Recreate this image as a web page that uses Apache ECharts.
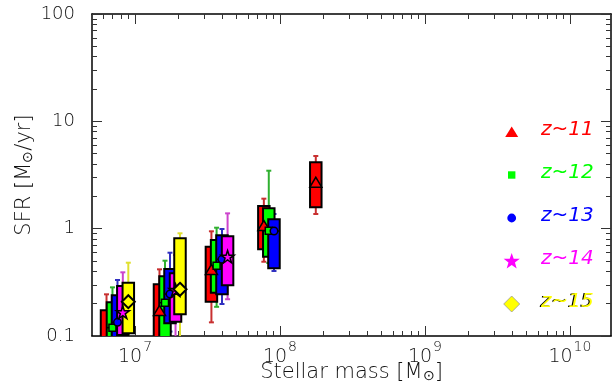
<!DOCTYPE html>
<html><head><meta charset="utf-8">
<script src="https://cdn.jsdelivr.net/npm/echarts@6/dist/echarts.min.js"></script>
<style>html,body{margin:0;padding:0;background:#fff}#c{width:612px;height:387px}</style>
</head><body><div id="c"></div>
<script>
// ---- axis ranges & ticks ----
const xMin = 5.05e6, xMax = 1.92e10;
const yMin = 0.1, yMax = 100;
const xMajorTicks = [1e7, 1e8, 1e9, 1e10];
const xMinorTicks = [6e6, 7e6, 8e6, 9e6, 2e7, 3e7, 4e7, 5e7, 6e7, 7e7, 8e7, 9e7,
  2e8, 3e8, 4e8, 5e8, 6e8, 7e8, 8e8, 9e8, 2e9, 3e9, 4e9, 5e9, 6e9, 7e9, 8e9, 9e9];
const yMajorTicks = [0.1, 1, 10, 100];
const yMinorTicks = [0.2, 0.3, 0.4, 0.5, 0.6, 0.7, 0.8, 0.9, 2, 3, 4, 5, 6, 7, 8, 9,
  20, 30, 40, 50, 60, 70, 80, 90];

// ---- data: stellar mass bins and SFR box statistics ----
const seriesNames = ['z~11', 'z~12', 'z~13', 'z~14', 'z~15'];

const z11Mass = [6.36e6, 1.475e7, 3.365e7, 7.74e7, 1.766e8];
const z11Low  = [0.07, 0.08, 0.134, 0.492, 1.37];
const z11Q1   = [0.08, 0.09, 0.209, 0.642, 1.581];
const z11Med  = [0.09, 0.157, 0.378, 0.972, 2.46];
const z11Q3   = [0.1735, 0.303, 0.679, 1.626, 4.153];
const z11High = [0.2445, 0.418, 0.945, 1.903, 4.753];

const z12Mass = [6.99e6, 1.61e7, 3.654e7, 8.37e7];
const z12Low  = [0.07, 0.08, 0.187, 0.479];
const z12Q1   = [0.085, 0.09, 0.253, 0.548];
const z12Med  = [0.1195, 0.2043, 0.4517, 0.957];
const z12Q3   = [0.206, 0.36, 0.784, 1.547];
const z12High = [0.284, 0.503, 1.021, 3.467];

const z13Mass = [7.57e6, 1.743e7, 3.98e7, 9.09e7];
const z13Low  = [0.075, 0.11, 0.1986, 0.403];
const z13Q1   = [0.09, 0.1312, 0.2445, 0.427];
const z13Med  = [0.134, 0.246, 0.518, 0.951];
const z13Q3   = [0.2394, 0.4208, 0.867, 1.222];
const z13High = [0.3324, 0.597, 0.9927, 1.37];

const z14Mass = [8.24e6, 1.903e7, 4.35e7];
const z14Low  = [0.08, 0.08, 0.22];
const z14Q1   = [0.1021, 0.1358, 0.2967];
const z14Med  = [0.1662, 0.2683, 0.548];
const z14Q3   = [0.2922, 0.3838, 0.849];
const z14High = [0.392, 0.568, 1.389];

const z15Mass = [8.99e6, 2.043e7];
const z15Low  = [0.085, 0.08];
const z15Q1   = [0.1059, 0.1592];
const z15Med  = [0.2087, 0.2723];
const z15Q3   = [0.3137, 0.813];
const z15High = [0.4818, 0.9054];

// ---- styles ----
const boxColors = ['#ff0000', '#00ff00', '#0000ff', '#ff00ff', '#ffff00'];
const whiskerColors = ['#c83030', '#30b030', '#3030c0', '#cc44cc', '#e0e030'];
const markerSymbols = ['triangle', 'rect', 'circle',
  'path://M50,0 L61.2,34.5 L97.6,34.5 L68.2,55.9 L79.4,90.5 L50,69.1 L20.6,90.5 L31.8,55.9 L2.4,34.5 L38.8,34.5 Z',
  'diamond'];
const markerSizes = [[12, 10], 7, 7.5, 13, 13];
const markerOffsets = [[0, -4.5], [0, 0], [0, 0], [0, 0], [0, 0]];

const groups = [
  [z11Mass, z11Low, z11Q1, z11Med, z11Q3, z11High],
  [z12Mass, z12Low, z12Q1, z12Med, z12Q3, z12High],
  [z13Mass, z13Low, z13Q1, z13Med, z13Q3, z13High],
  [z14Mass, z14Low, z14Q1, z14Med, z14Q3, z14High],
  [z15Mass, z15Low, z15Q1, z15Med, z15Q3, z15High]
];
const rows = groups.map(g => g[0].map((m, i) => [m, g[1][i], g[2][i], g[3][i], g[4][i], g[5][i]]));

const FONT = 'DejaVu Sans';
const TXT = '#111';
const BOX_W = 11.5;

function whiskerItem(params, api) {
  const x = api.value(0);
  const lo = api.coord([x, api.value(1)]);
  const hi = api.coord([x, api.value(5)]);
  const c = api.visual('color');
  const st = { stroke: c, lineWidth: 2 };
  return { type: 'group', children: [
    { type: 'line', shape: { x1: lo[0], y1: lo[1], x2: hi[0], y2: hi[1] }, style: st },
    { type: 'line', shape: { x1: hi[0] - 2.5, y1: hi[1], x2: hi[0] + 2.5, y2: hi[1] }, style: st },
    { type: 'line', shape: { x1: lo[0] - 2.5, y1: lo[1], x2: lo[0] + 2.5, y2: lo[1] }, style: st }
  ]};
}
function boxItem(params, api) {
  const x = api.value(0);
  const top = api.coord([x, api.value(4)]);
  const bot = api.coord([x, api.value(2)]);
  const med = api.coord([x, api.value(3)]);
  const c = api.visual('color');
  return { type: 'group', children: [
    { type: 'rect', shape: { x: top[0] - BOX_W / 2, y: top[1], width: BOX_W, height: bot[1] - top[1] },
      style: { fill: c, stroke: '#000', lineWidth: 2 } },
    { type: 'line', shape: { x1: top[0] - BOX_W / 2, y1: med[1], x2: top[0] + BOX_W / 2, y2: med[1] },
      style: { stroke: '#000', lineWidth: 1.5 } }
  ]};
}

const series = [];
rows.forEach((r, k) => series.push({
  type: 'custom', name: seriesNames[k] + ' whisker', renderItem: whiskerItem, clip: true,
  itemStyle: { color: whiskerColors[k] }, encode: { x: 0, y: [1, 2, 3, 4, 5] }, data: r, silent: true
}));
rows.forEach((r, k) => series.push({
  type: 'custom', name: seriesNames[k], renderItem: boxItem, clip: true,
  itemStyle: { color: boxColors[k] }, encode: { x: 0, y: [1, 2, 3, 4, 5] }, data: r, silent: true
}));
rows.forEach((r, k) => series.push({
  type: 'scatter', name: seriesNames[k] + ' median', clip: true, silent: true,
  symbol: markerSymbols[k], symbolSize: markerSizes[k], symbolOffset: markerOffsets[k], symbolKeepAspect: true,
  itemStyle: { color: boxColors[k], borderColor: '#000', borderWidth: k === 4 ? 2 : 1.5, opacity: 1 },
  data: r.map(d => [d[0], d[3]])
}));

const tickStyle = { color: '#333', width: 1 };
const lineStyle = { color: '#000', width: 1.5 };
const nameRich = {
  a: { fontFamily: FONT, fontSize: 21, fontWeight: 200, color: TXT, lineHeight: 24, padding: [0, 0, 6, 0] },
  sub: { fontFamily: FONT, fontSize: 14, fontWeight: 200, color: TXT, lineHeight: 14 }
};
function axisPair(dim, pos, isLabelled) {
  const isX = dim === 'x';
  const base = { type: 'log', logBase: 10, min: isX ? xMin : yMin, max: isX ? xMax : yMax, position: pos,
    splitLine: { show: false }, minorTick: { show: false } };
  const minor = Object.assign({}, base, {
    axisLine: { show: true, onZero: false, lineStyle },
    axisTick: { show: true, inside: true, length: 5, lineStyle: tickStyle, customValues: isX ? xMinorTicks : yMinorTicks },
    axisLabel: { show: false }
  });
  const major = Object.assign({}, base, {
    axisLine: { show: false, onZero: false },
    axisTick: { show: true, inside: true, length: 10, lineStyle: tickStyle, customValues: isX ? xMajorTicks : yMajorTicks },
    axisLabel: { show: false }
  });
  if (isLabelled && isX) {
    major.axisLabel = {
      show: true, customValues: xMajorTicks, margin: 4,
      formatter: v => '{b|10}{s|' + Math.round(Math.log10(v)) + '}',
      rich: {
        b: { fontFamily: FONT, fontSize: 19, fontWeight: 200, color: TXT, padding: [8, 0, 0, 0] },
        s: { fontFamily: FONT, fontSize: 14, fontWeight: 200, color: TXT, padding: [0, 0, 12, 1] }
      }
    };
    major.name = '{a|Stellar mass [M}{sub|⊙}{a|]}';
    major.nameLocation = 'middle';
    major.nameGap = 28;
    major.nameMoveOverlap = false;
    major.nameTextStyle = { rich: nameRich };
  }
  if (isLabelled && !isX) {
    major.axisLabel = {
      show: true, customValues: yMajorTicks, margin: 17,
      formatter: v => (v < 1 ? v.toFixed(1) : String(Math.round(v))),
      fontFamily: FONT, fontSize: 18, fontWeight: 200, color: TXT
    };
    major.name = '{a|SFR [M}{sub|⊙}{a|/yr]}';
    major.nameLocation = 'middle';
    major.nameGap = 52;
    major.nameMoveOverlap = false;
    major.nameTextStyle = { rich: nameRich };
  }
  return [minor, major];
}

const xAxes = [...axisPair('x', 'bottom', true), ...axisPair('x', 'top', false)];
const yAxes = [...axisPair('y', 'left', true), ...axisPair('y', 'right', false)];

// ---- legend (drawn as graphic) ----
const legendX = 511.7, legendTextX = 541, legendY0 = 130, legendStep = 43;
function starPoints(cx, cy, R, r) {
  const pts = [];
  for (let i = 0; i < 10; i++) {
    const a = -Math.PI / 2 + i * Math.PI / 5;
    const rad = i % 2 === 0 ? R : r;
    pts.push([cx + rad * Math.cos(a), cy + rad * Math.sin(a)]);
  }
  return pts;
}
const graphics = [];
seriesNames.forEach((nm, k) => {
  const cy = legendY0 + k * legendStep + 2;
  let el;
  if (k === 0) el = { type: 'polygon', shape: { points: [[legendX - 6.5, cy + 5], [legendX + 6.5, cy + 5], [legendX, cy - 5.5]] }, style: { fill: boxColors[0] } };
  if (k === 1) el = { type: 'rect', shape: { x: legendX - 3.7, y: cy - 3.7, width: 7.4, height: 7.4 }, style: { fill: boxColors[1] } };
  if (k === 2) el = { type: 'circle', shape: { cx: legendX, cy: cy, r: 4.4 }, style: { fill: boxColors[2] } };
  if (k === 3) el = { type: 'polygon', shape: { points: starPoints(legendX, cy + 0.5, 8.5, 3.4) }, style: { fill: boxColors[3] } };
  if (k === 4) el = { type: 'polygon', shape: { points: [[legendX, cy - 8], [legendX + 8, cy], [legendX, cy + 8], [legendX - 8, cy]] }, style: { fill: boxColors[4], stroke: '#999', lineWidth: 0.8 } };
  graphics.push(el);
  const ty = legendY0 + k * legendStep;
  if (k === 4) {
    graphics.push({ type: 'text', silent: true, style: { text: nm, x: legendTextX - 1.2, y: ty, fill: '#000',
      fontFamily: FONT, fontStyle: 'italic', fontSize: 20, verticalAlign: 'middle', align: 'left' } });
  }
  graphics.push({ type: 'text', style: { text: nm, x: legendTextX, y: ty, fill: boxColors[k],
    fontFamily: FONT, fontStyle: 'italic', fontSize: 20, verticalAlign: 'middle', align: 'left' } });
});

const chart = echarts.init(document.getElementById('c'), null, { renderer: 'canvas' });
chart.setOption({
  animation: false,
  backgroundColor: '#fff',
  grid: { left: 92, right: 1, top: 14, bottom: 51, containLabel: false, outerBoundsMode: 'none' },
  xAxis: xAxes,
  yAxis: yAxes,
  series: series,
  graphic: graphics
});
</script></body></html>
